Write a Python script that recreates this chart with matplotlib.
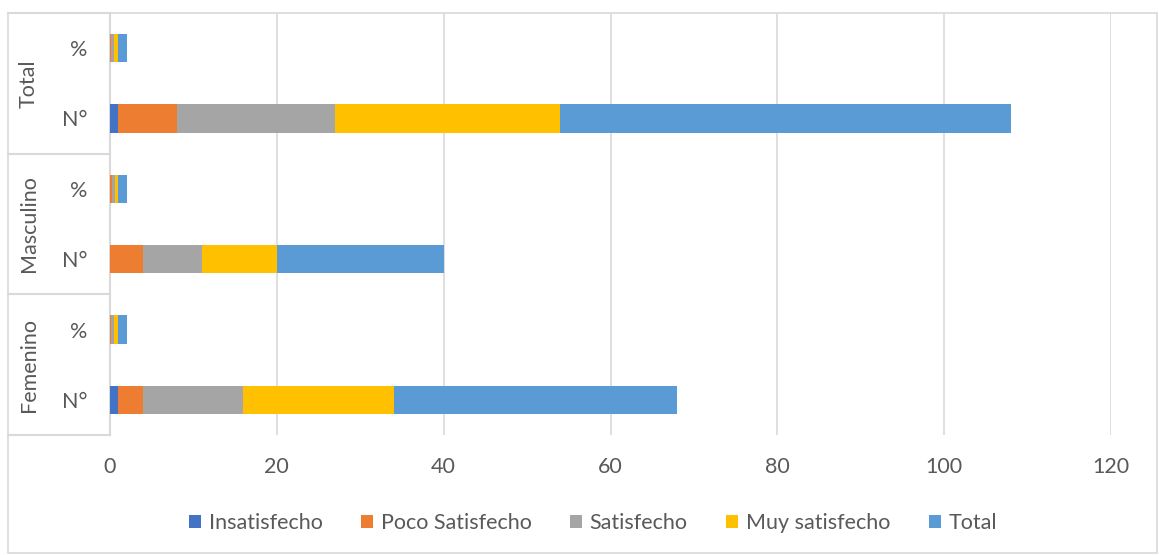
import numpy as np
import matplotlib.pyplot as plt
from matplotlib.transforms import blended_transform_factory
from matplotlib.patches import Rectangle

# rows bottom to top: (group, measure)
groups = ['Femenino', 'Masculino', 'Total']
measures = ['N°', '%']
series = ['Insatisfecho', 'Poco Satisfecho', 'Satisfecho', 'Muy satisfecho', 'Total']
colors = ['#4472C4', '#ED7D31', '#A5A5A5', '#FFC000', '#5B9BD5']

# one list per series, rows: Fem N°, Fem %, Masc N°, Masc %, Total N°, Total %
insatisfecho = [1, 0.03, 0, 0.00, 1, 0.02]
poco_satisfecho = [3, 0.09, 4, 0.20, 7, 0.13]
satisfecho = [12, 0.35, 7, 0.35, 19, 0.35]
muy_satisfecho = [18, 0.53, 9, 0.45, 27, 0.50]
total = [34, 1.00, 20, 1.00, 54, 1.00]
values = [insatisfecho, poco_satisfecho, satisfecho, muy_satisfecho, total]

W, H = 1159, 555
fig = plt.figure(figsize=(W/100, H/100), dpi=100)
plt.rcParams['font.family'] = ['Lato', 'DejaVu Sans']
TXT = '#595959'
GRID = '#D9D9D9'
FS = 15.5

ax = fig.add_axes([110/W, 1-435/H, (1111-110)/W, (435-13)/H])
y = np.arange(len(groups)*len(measures))
left = np.zeros(len(y))
for name, vals, c in zip(series, values, colors):
    vals = np.array(vals)
    ax.barh(y, vals, left=left, height=0.4, color=c, label=name, zorder=3)
    left += vals

ax.set_xlim(0, 120)
ax.set_ylim(-0.5, len(y)-0.5)
ax.set_xticks(np.arange(0, 121, 20))
ax.grid(axis='x', color=GRID, lw=1.2, zorder=0)
ax.set_yticks(y)
ax.set_yticklabels(measures*len(groups))
ax.tick_params(axis='y', length=0, pad=16, labelsize=FS, labelcolor=TXT)
ax.tick_params(axis='x', length=0, pad=16, labelsize=FS, labelcolor=TXT)
for s in ['top', 'right', 'bottom']:
    ax.spines[s].set_visible(False)
ax.spines['left'].set_color(GRID)
ax.spines['left'].set_linewidth(1.5)

# group labels and separators of the category table
tr = blended_transform_factory(fig.transFigure, ax.transData)
for k in range(len(groups)+1):
    yb = k*len(measures) - 0.5
    ax.plot([8/W, 110/W], [yb, yb], color=GRID, lw=1.5, transform=tr, clip_on=False)
for k, g in enumerate(groups):
    ax.text(29/W, k*len(measures)+0.5, g, transform=tr, rotation=90,
            ha='center', va='center', fontsize=FS, color=TXT)

# chart border
fig.patches.append(Rectangle((8/W, 1-553/H), (1157-8)/W, (553-13)/H,
                             transform=fig.transFigure, fill=False,
                             edgecolor=GRID, lw=1.2))

fig.legend(loc='center', bbox_to_anchor=(593/W, 1-523/H), ncol=5, frameon=False,
           handlelength=0.55, handleheight=0.6, handletextpad=0.35,
           columnspacing=1.8, fontsize=FS, labelcolor=TXT)

fig.savefig('out.png', dpi=100)
